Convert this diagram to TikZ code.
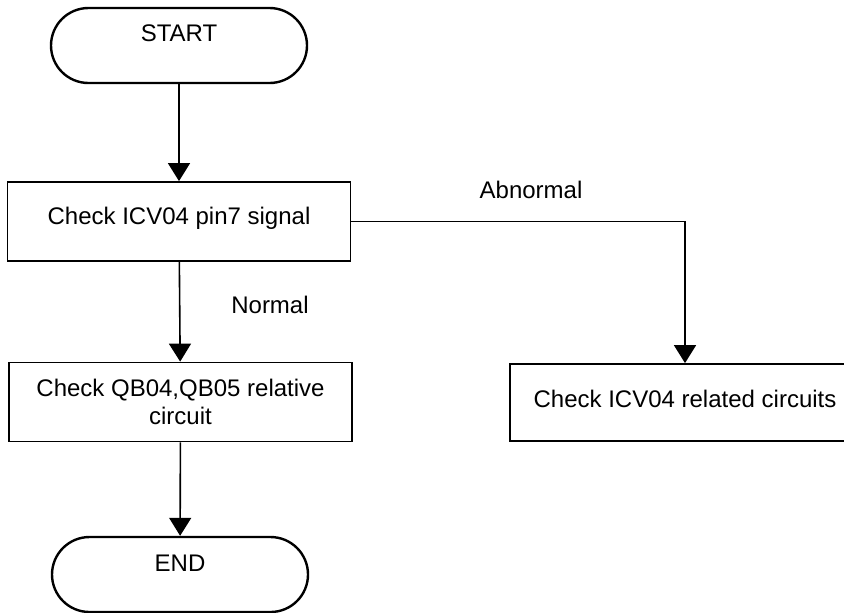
\documentclass[tikz,border=0pt]{standalone}
\usepackage{fontspec}
\setmainfont{Liberation Sans}
\usepackage{tikz}
\usetikzlibrary{positioning, arrows.meta, shapes.misc}
\tikzset{
  pnode/.style={draw, line width=0.9pt, align=center, font=\fontsize{12}{14}\selectfont, inner sep=2pt},
  term/.style={pnode, rounded rectangle, line width=1.2pt, minimum width=132pt, minimum height=37.5pt},
  procbox/.style={pnode, rectangle, minimum width=171.5pt, minimum height=39.5pt},
  lbl/.style={font=\fontsize{12}{14}\selectfont, inner sep=0pt},
  arr/.style={-{Triangle[length=9pt, width=11pt]}, line width=0.8pt},
}
\begin{document}
\begin{tikzpicture}[x=0.5pt, y=-0.5pt]
\useasboundingbox (0,0) rectangle (844,612);
\node[term, text height=9pt, text depth=13pt] (start) at (179,45.5) {START};
\node[procbox, text height=9pt, text depth=6.4pt] (sig) at (179,221.5) {Check ICV04 pin7 signal};
\node[procbox] (qb) at (180.5,402) {Check QB04,QB05 relative\\circuit};
\node[procbox, minimum width=175pt, minimum height=38.5pt, text height=9pt, text depth=4.4pt] (icv) at (685,402.5) {Check ICV04 related circuits};
\node[term, text height=9pt, text depth=11.9pt] (end) at (180,574.5) {END};
\node[lbl] (abn) at (531,190) {Abnormal};
\node[lbl] (nrm) at (270,305) {Normal};
\foreach \from/\to in {start/sig, sig/qb, qb/end}
  \draw[arr] (\from) -- (\to);
\draw[arr] (sig.east) -| (icv.north);
\end{tikzpicture}
\end{document}
